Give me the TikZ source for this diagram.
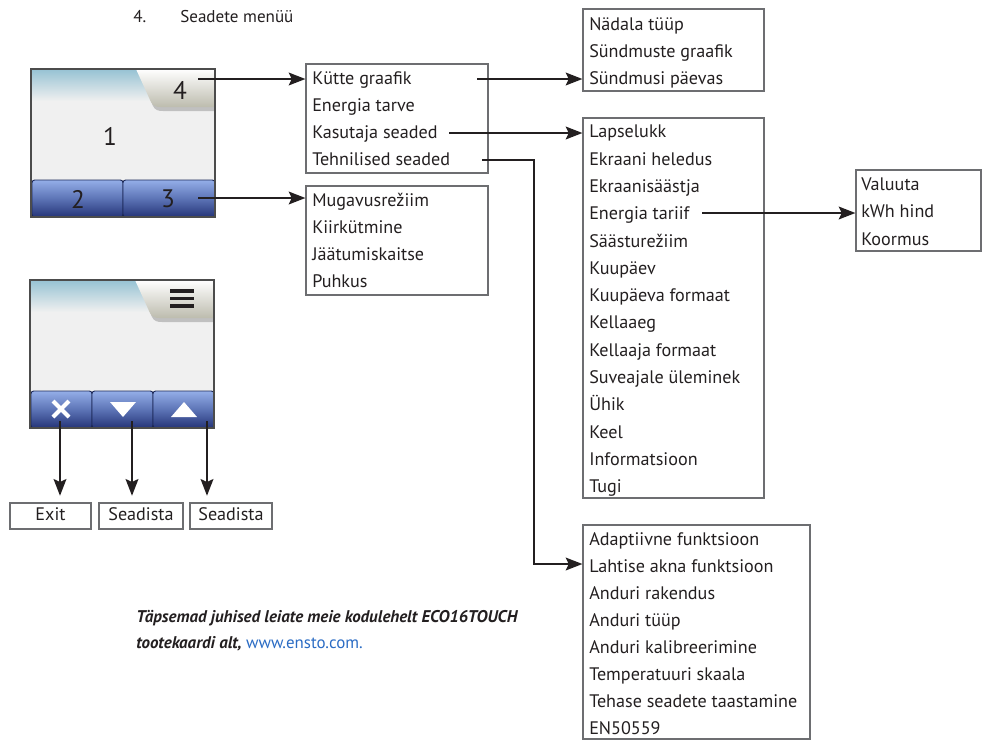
\documentclass[tikz,border=0pt]{standalone}
\usepackage{fontspec}
\setmainfont{PT Sans}
\usetikzlibrary{arrows.meta,fit}
\definecolor{txt}{HTML}{231F20}
\definecolor{boxline}{HTML}{6D6E71}
\definecolor{bodygray}{HTML}{F0F0F0}
\definecolor{topblue}{HTML}{96C2D3}
\definecolor{tabgray}{HTML}{BDBCAE}
\definecolor{btntop}{HTML}{94AEE8}
\definecolor{btnmid}{HTML}{5C74B6}
\definecolor{btnbot}{HTML}{253478}
\definecolor{btnedge}{HTML}{1B2757}
\definecolor{linkblue}{HTML}{2B6CC4}
\newcommand{\ecoScreen}{%
  \fill[bodygray] (0,0) rectangle (184,148);
  \shade[top color=topblue, bottom color=bodygray] (0,0) rectangle (184,32);
  \fill[black,opacity=0.2] (107,0) -- (122,37) .. controls (124,41) and (127,42) .. (132,42) -- (184,42) -- (184,0) -- cycle;
  \shade[top color=white, bottom color=tabgray] (105,0) -- (120,33) .. controls (122,37) and (125,38) .. (130,38) -- (184,38) -- (184,0) -- cycle;
}
\newcommand{\ecoButton}[2]{%
  \shade[top color=btntop, bottom color=btnbot, middle color=btnmid, draw=btnedge, line width=0.7pt, rounded corners=2pt] (#1,111) rectangle (#2,148);
}
\newcommand{\ecoFrame}{\draw[black!70, line width=0.8pt] (0,0) rectangle (184,148);}
\begin{document}
\begin{tikzpicture}[x=0.75pt,y=-0.75pt,
  font=\fontsize{13.6}{16}\selectfont,
  mbox/.style={draw=boxline, line width=0.8pt, inner sep=0pt},
  item/.style={anchor=west, inner sep=0pt, text=txt, text height=9.6pt, text depth=0.8pt},
  devnum/.style={inner sep=0pt, text=txt, font=\fontsize{19}{21}\selectfont},
  bbox/.style={draw=boxline, line width=0.8pt, inner sep=0pt, text=txt, text height=9.6pt, text depth=3pt},
  arr/.style={draw=txt, line width=1.9pt, -{Stealth[length=12.5pt,width=9.5pt,inset=2.2pt]}}]
\useasboundingbox (0,0) rectangle (982,740);

% title
\node[item, font=\fontsize{12.8}{15}\selectfont] (tnum) at (133,17) {4.};
\node[item, font=\fontsize{12.8}{15}\selectfont] (ttl) at (180,17) {Seadete menüü};

% device 1
\begin{scope}[shift={(31,69)}]
  \ecoScreen
  \ecoButton{1}{92}
  \ecoButton{92}{184}
  \ecoFrame
\end{scope}
\node[devnum] (d4) at (180,90) {4};
\node[devnum] (d1) at (110,136) {1};
\node[devnum] (d2) at (78,199) {2};
\node[devnum] (d3) at (168,199) {3};

% device 2
\begin{scope}[shift={(30,280)}]
  \ecoScreen
  \ecoButton{1}{62}
  \ecoButton{62}{123}
  \ecoButton{123}{184}
  \ecoFrame
\end{scope}
\draw[txt, line width=2.4pt] (170,291) -- (194,291) (170,298.5) -- (194,298.5) (170,306) -- (194,306);
\draw[white, line width=3pt] (53,401) -- (69,417) (53,417) -- (69,401);
\fill[white] (110,402) -- (136,402) -- (123,417) -- cycle;
\fill[white] (171,417) -- (197,417) -- (184,402) -- cycle;

% menu boxes
\node[mbox, fit={(306,64) (488,173)}] (b1) {};
\node[item] (b1a) at (312,79) {Kütte graafik};
\node[item] (b1b) at (312,106) {Energia tarve};
\node[item] (b1c) at (312,133) {Kasutaja seaded};
\node[item] (b1d) at (312,160) {Tehnilised seaded};

\node[mbox, fit={(306,186) (488,295)}] (b2) {};
\node[item] (b2a) at (312,201) {Mugavusrežiim};
\node[item] (b2b) at (312,228) {Kiirkütmine};
\node[item] (b2c) at (312,255) {Jäätumiskaitse};
\node[item] (b2d) at (312,282) {Puhkus};

\node[mbox, fit={(583,9) (764,91)}] (b3) {};
\node[item] (b3a) at (589,25) {Nädala tüüp};
\node[item] (b3b) at (589,52) {Sündmuste graafik};
\node[item] (b3c) at (589,79) {Sündmusi päevas};

\node[mbox, fit={(583,118) (764,498)}] (b4) {};
\foreach \t [count=\i from 0] in {Lapselukk,Ekraani heledus,Ekraanisäästja,Energia tariif,Säästurežiim,Kuupäev,Kuupäeva formaat,Kellaaeg,Kellaaja formaat,Suveajale üleminek,Ühik,Keel,Informatsioon,Tugi}
  \node[item] (b4i\i) at (589,132+27.3*\i) {\t};

\node[mbox, fit={(856,170) (981,251)}] (b5) {};
\node[item] (b5a) at (861,185) {Valuuta};
\node[item] (b5b) at (861,212) {kWh hind};
\node[item] (b5c) at (861,240) {Koormus};

\node[mbox, fit={(583,525) (810,739)}] (b6) {};
\foreach \t [count=\i from 0] in {Adaptiivne funktsioon,Lahtise akna funktsioon,Anduri rakendus,Anduri tüüp,Anduri kalibreerimine,Temperatuuri skaala,Tehase seadete taastamine,EN50559}
  \node[item] (b6i\i) at (589,540+27*\i) {\t};

% bottom boxes
\node[bbox, minimum width=60.75pt, minimum height=19.5pt] (ex) at (50.5,516) {Exit};
\node[bbox, minimum width=63pt, minimum height=19.5pt] (sd1) at (141,516) {Seadista};
\node[bbox, minimum width=61.5pt, minimum height=19.5pt] (sd2) at (231,516) {Seadista};

% connector starts
\coordinate (s4) at (198,79);
\coordinate (s3) at (198,198);
\coordinate (sk) at (477,79);
\coordinate (sks) at (449,133);
\coordinate (st) at (482,160);
\coordinate (bend) at (534,160);
\coordinate (se) at (702,213);
\coordinate (sx) at (60,421);
\coordinate (sdn) at (132,421);
\coordinate (sup) at (207,421);

\draw[arr] (s4) -- (s4 -| b1.west);
\draw[arr] (s3) -- (s3 -| b2.west);
\draw[arr] (sk) -- (sk -| b3.west);
\draw[arr] (sks) -- (sks -| b4.west);
\draw[arr] (se) -- (se -| b5.west);
\draw[arr] (st) -- (bend) |- ([yshift=2.25pt]b6.west |- b6i1);
\draw[arr, shorten >=5pt] (sx) -- (sx |- ex.north);
\draw[arr, shorten >=5pt] (sdn) -- (sdn |- sd1.north);
\draw[arr, shorten >=5pt] (sup) -- (sup |- sd2.north);

% footnote
\node[item, font=\fontsize{12.7}{15}\selectfont\bfseries\itshape] (f1) at (136,617) {Täpsemad juhised leiate meie kodulehelt ECO16TOUCH};
\node[item, font=\fontsize{12.7}{15}\selectfont] (f2) at (136,643) {{\bfseries\itshape tootekaardi alt,} \textcolor{linkblue}{www.ensto.com.}};
\end{tikzpicture}
\end{document}
